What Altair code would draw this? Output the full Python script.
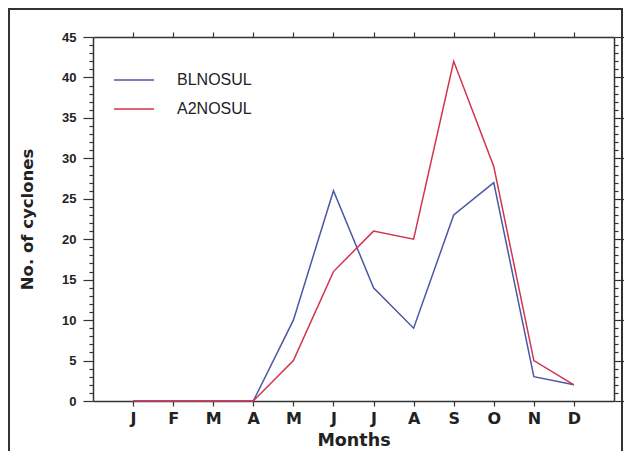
import altair as alt
import pandas as pd

months = ["J", "F", "M", "A", "M", "J", "J", "A", "S", "O", "N", "D"]
blnosul = [0, 0, 0, 0, 10, 26, 14, 9, 23, 27, 3, 2]
a2nosul = [0, 0, 0, 0, 5, 16, 21, 20, 42, 29, 5, 2]
series_names = ["BLNOSUL", "A2NOSUL"]
series_colors = ["#4b57a4", "#d2344e"]
y_minor = list(range(0, 46))
month_pos = list(range(1, 13))

rows = []
for name, vals in zip(series_names, [blnosul, a2nosul]):
    for i, (m, v) in enumerate(zip(months, vals)):
        rows.append({"idx": i + 1, "month": m, "value": v, "series": name})
df = pd.DataFrame(rows)

label_expr = "[" + ",".join(f"'{m}'" for m in months) + "][datum.value-1]"

x_scale = alt.Scale(domain=[0, 13], nice=False, zero=False)
y_scale = alt.Scale(domain=[0, 45], nice=False)
tick_cond = {"condition": {"test": "datum.value % 5 === 0", "value": 10}, "value": 4}

lines = alt.Chart(df).mark_line(strokeWidth=1.5).encode(
    x=alt.X("idx:Q", scale=x_scale,
            axis=alt.Axis(orient="bottom", values=month_pos, labelExpr=label_expr,
                          title="Months", tickSize=5, labelPadding=4,
                          labelFont="DejaVu Sans", labelFontSize=16, labelFontWeight="bold",
                          titleFont="DejaVu Sans", titleFontSize=17.5, titleFontWeight="bold",
                          titleBaseline="top", titleY=30, grid=False)),
    y=alt.Y("value:Q", scale=y_scale,
            axis=alt.Axis(orient="left", values=y_minor,
                          labelExpr="datum.value % 5 === 0 ? datum.label : ''",
                          tickSize=tick_cond, labelPadding=7,
                          labelFont="Liberation Sans", labelFontSize=13, labelFontWeight="bold",
                          title="No. of cyclones", titleFont="DejaVu Sans", titleFontSize=16.5,
                          titleFontWeight="bold", titleX=-66, titleY=182, titleBaseline="middle",
                          grid=False)),
    color=alt.Color("series:N", scale=alt.Scale(domain=series_names, range=series_colors),
                    legend=alt.Legend(orient="none", legendX=20, legendY=22, title=None,
                                      symbolType="stroke", symbolSize=1600, symbolStrokeWidth=1.5,
                                      labelOffset=22, labelFont="Liberation Sans", labelFontSize=16,
                                      labelColor="#222", padding=0, rowPadding=-5)),
)

ghost = alt.Chart(df).mark_line(opacity=0).encode(
    x=alt.X("idx:Q", scale=x_scale,
            axis=alt.Axis(orient="top", values=month_pos, labels=False, title=None,
                          tickSize=5, grid=False)),
    y=alt.Y("value:Q", scale=y_scale,
            axis=alt.Axis(orient="right", values=y_minor, labels=False, title=None,
                          tickSize=tick_cond, grid=False)),
    detail="series:N",
)

frame = alt.Chart(pd.DataFrame({"a": [0]})).mark_rect(
    fillOpacity=0, stroke="#333333", strokeWidth=2
).encode(
    x=alt.value(-84), x2=alt.value(529), y=alt.value(-28), y2=alt.value(440)
)

chart = alt.layer(lines, ghost, frame).resolve_axis(x="independent", y="independent").properties(
    width=521, height=364,
    autosize=alt.AutoSizeParams(type="none"),
    padding={"left": 85, "top": 29, "right": 10, "bottom": 50},
).configure_view(stroke=None).configure_axis(
    domainColor="#333333", domainWidth=1.5, tickColor="#333333", tickWidth=1.2,
    labelColor="#222222", titleColor="#222222"
)

chart.save("out.html", embed_options={"renderer": "svg", "actions": False})
